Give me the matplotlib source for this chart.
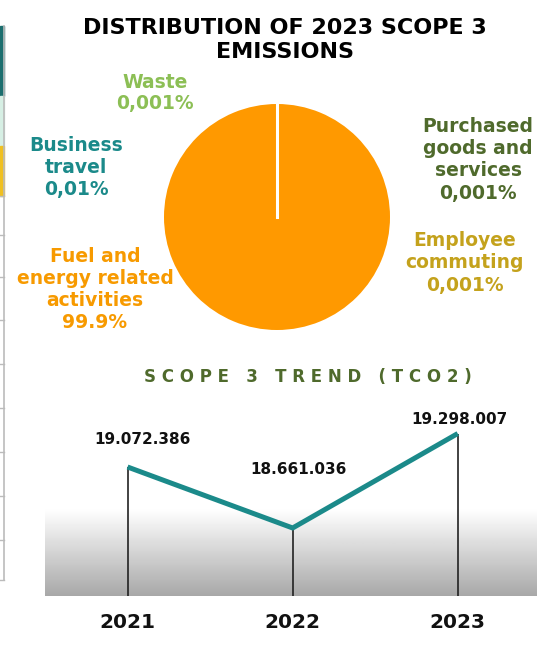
import numpy as np
import matplotlib.pyplot as plt
from matplotlib.patches import Rectangle

# --- data ---
categories = ["Fuel and\nenergy related\nactivities", "Business\ntravel", "Waste",
              "Purchased\ngoods and\nservices", "Employee\ncommuting"]
shares = [99.9, 0.01, 0.001, 0.001, 0.001]
share_labels = ["99.9%", "0,01%", "0,001%", "0,001%", "0,001%"]
label_colors = ["#f79a00", "#1b8a8a", "#8cbf55", "#4f6a2c", "#c4a21c"]

years = ["2021", "2022", "2023"]
trend = [19072386, 18661036, 19298007]
trend_labels = ["19.072.386", "18.661.036", "19.298.007"]

W, H = 551, 653
fig = plt.figure(figsize=(W / 100, H / 100), dpi=100)

# --- pie ---
ax_pie = fig.add_axes([164 / W, 1 - 330 / H, 226 / W, 226 / H])
ax_pie.pie(shares[::-1], colors=["#ff9900"] * len(shares), startangle=90, counterclock=False,
           wedgeprops=dict(edgecolor="white", linewidth=0))
ax_pie.plot([0, 0], [0, 1], color="white", lw=2.2)
ax_pie.set_xlim(-1, 1)
ax_pie.set_ylim(-1, 1)
ax_pie.set_aspect("equal")
ax_pie.axis("off")

fig.text(285 / W, 1 - 40 / H, "DISTRIBUTION OF 2023 SCOPE 3\nEMISSIONS", ha="center", va="center",
         fontsize=16, fontweight="bold", linespacing=1.3)

# label positions (pixels) for each category
label_pos = [(95, 290), (76, 168), (155, 93), (478, 160), (465, 263)]
for name, pct, col, (px, py) in zip(categories, share_labels, label_colors, label_pos):
    fig.text(px / W, 1 - py / H, name + "\n" + pct, ha="center", va="center",
             fontsize=13.5, fontweight="bold", color=col, linespacing=1.2)

# --- trend ---
fig.text(308 / W, 1 - 377 / H, "S C O P E   3   T R E N D   ( T C O 2 )", ha="center", va="center",
         fontsize=12, fontweight="bold", color="#4f6a2c")

ax = fig.add_axes([45 / W, 57 / H, 492 / W, 196 / H])
x = np.arange(len(years))
ymin, ymax = 18202500, 19524000
ax.set_xlim(-0.5, 2.48)
ax.set_ylim(ymin, ymax)

# grey gradient background
grad = np.linspace(0.66, 1.0, 256).reshape(-1, 1)
ax.imshow(grad, cmap="gray", vmin=0, vmax=1, aspect="auto", origin="lower",
          extent=(-0.5, 2.48, ymin, 18782400), zorder=0)
ax.set_ylim(ymin, ymax)

ax.vlines(x, ymin, trend, color="#222222", lw=1.2, zorder=2)
ax.plot(x, trend, color="#1b8a8a", lw=3.6, solid_capstyle="butt", zorder=3)
offs = [(11, 20), (4, 42), (1, 10)]
for xi, v, lab, o in zip(x, trend, trend_labels, offs):
    ax.annotate(lab, (xi, v), xytext=o, textcoords="offset points", ha="center", va="center",
                fontsize=11, fontweight="bold", color="#111111")
ax.axis("off")
for xi, yr in zip(x, years):
    ax.annotate(yr, (xi, ymin), xytext=(0, -19), textcoords="offset points", ha="center", va="center",
                fontsize=14.5, fontweight="bold", color="#111111", annotation_clip=False)

# cropped table fragment on the left edge
strip = fig.add_axes([0, 0, 6 / W, 1])
strip.set_xlim(0, 6)
strip.set_ylim(H, 0)
strip.axis("off")
strip.add_patch(Rectangle((0, 26), 4, 70, color="#1b6e6e"))
strip.add_patch(Rectangle((0, 96), 4, 50, color="#d6efe4"))
strip.add_patch(Rectangle((0, 146), 4, 50, color="#f0c020"))
strip.plot([4, 4], [26, 580], color="#bbbbbb", lw=1.2)
for yy in [196, 235, 277, 320, 364, 408, 452, 496, 540, 580]:
    strip.plot([0, 4], [yy, yy], color="#bbbbbb", lw=1)

fig.savefig("out.png", dpi=100)
